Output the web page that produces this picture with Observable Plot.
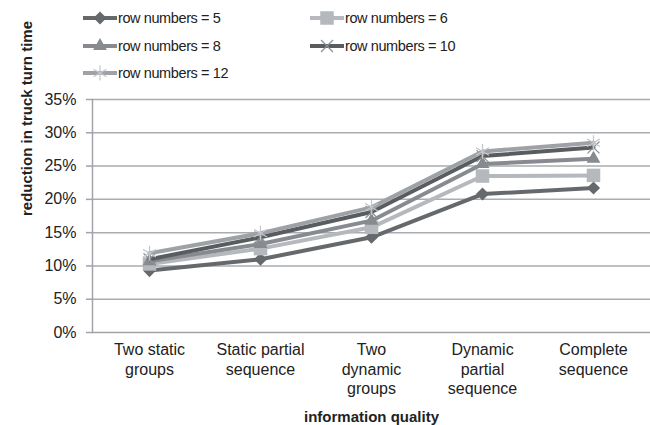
<!DOCTYPE html>
<html>
<head>
<meta charset="utf-8">
<script src="https://cdn.jsdelivr.net/npm/d3@7"></script>
<script src="https://cdn.jsdelivr.net/npm/@observablehq/plot@0.6"></script>
<style>
  html, body { margin: 0; padding: 0; background: #fff; }
  #wrap { position: relative; width: 650px; height: 425px; font-family: "Liberation Sans", Arial, sans-serif; }
  #legend { position: absolute; left: 0; top: 0; width: 650px; height: 90px; }
  .item { position: absolute; height: 20px; display: flex; align-items: center; font-size: 14.5px; letter-spacing: -0.4px; color: #222; }
  .item svg { display: block; margin-right: 1px; }
</style>
</head>
<body>
<div id="wrap"><div id="legend"></div></div>
<script>
const categories = ["Two static groups", "Static partial sequence", "Two dynamic groups", "Dynamic partial sequence", "Complete sequence"];
const tickLabels = ["Two static\ngroups", "Static partial\nsequence", "Two\ndynamic\ngroups", "Dynamic\npartial\nsequence", "Complete\nsequence"];
const seriesNames = ["row numbers = 5", "row numbers = 6", "row numbers = 8", "row numbers = 10", "row numbers = 12"];
const row5  = [0.093, 0.110, 0.143, 0.208, 0.217];
const row6  = [0.103, 0.126, 0.158, 0.235, 0.236];
const row8  = [0.107, 0.133, 0.168, 0.253, 0.261];
const row10 = [0.110, 0.143, 0.181, 0.265, 0.278];
const row12 = [0.119, 0.149, 0.188, 0.272, 0.285];
const yTicks = [0, 0.05, 0.10, 0.15, 0.20, 0.25, 0.30, 0.35];
const yTitle = "reduction in truck turn time";
const xTitle = "information quality";

const seriesValues = [row5, row6, row8, row10, row12];
const colors = ["#66696b", "#b5b9bd", "#878b8f", "#5a5d5f", "#9ea2a6"];
const symbols = ["diamond2", "square2", "triangle2", "times", "asterisk"];
const d3symbols = [d3.symbolDiamond2, d3.symbolSquare2, d3.symbolTriangle2, d3.symbolTimes, d3.symbolAsterisk];
const radii = [5.9, 8.6, 6.6, 5.5, 7.1];
const filled = [true, true, true, false, false];

const data = seriesNames.flatMap((s, si) => categories.map((c, ci) => ({series: s, cat: c, value: seriesValues[si][ci]})));
const labelMap = new Map(categories.map((c, i) => [c, tickLabels[i]]));

const marks = [
  Plot.gridY(yTicks.filter(d => d > 0), {stroke: "#a9adb1", strokeOpacity: 1, strokeWidth: 1.5}),
  Plot.ruleY([0], {stroke: "#a0a4a8", strokeWidth: 1.5}),
  Plot.frame({anchor: "left", stroke: "#a0a4a8", strokeWidth: 1.5}),
  Plot.axisY({ticks: yTicks, tickFormat: d => Math.round(d * 100) + "%", tickSize: 6, tickPadding: 10, fontSize: 16, stroke: "#a0a4a8", strokeWidth: 1.5, color: "#222", label: null}),
  Plot.axisX({tickSize: 0, tickPadding: 9, fontSize: 16, lineHeight: 1.22, tickFormat: d => labelMap.get(d), color: "#222", label: null}),
  Plot.text([yTitle], {frameAnchor: "left", dx: -65, rotate: -90, fontSize: 15, fontWeight: "bold", fill: "#222"}),
  Plot.text([xTitle], {frameAnchor: "bottom", dy: 89, fontSize: 15, fontWeight: "bold", fill: "#222"})
];
seriesNames.forEach((s, si) => {
  const sub = data.filter(d => d.series === s);
  marks.push(Plot.line(sub, {x: "cat", y: "value", stroke: colors[si], strokeWidth: 4, strokeLinejoin: "round"}));
  marks.push(Plot.dot(sub, filled[si]
    ? {x: "cat", y: "value", symbol: () => symbols[si], r: radii[si], fill: colors[si], stroke: "none"}
    : {x: "cat", y: "value", symbol: () => symbols[si], r: radii[si], fill: "none", stroke: si === 3 ? "#8c9094" : "#c2c5c9", strokeWidth: 1.2}));
});

const chart = Plot.plot({
  width: 650, height: 425,
  marginTop: 99, marginBottom: 93, marginLeft: 92, marginRight: 0,
  style: {fontFamily: "'Liberation Sans', Arial, sans-serif", background: "white"},
  x: {type: "point", domain: categories, padding: 0.5},
  y: {domain: [0, 0.35]},
  symbol: {type: "identity"},
  marks
});
document.getElementById("wrap").appendChild(chart);

// legend
const pos = [[83, 18], [310, 18], [83, 46], [310, 46], [83, 73]];
const legend = d3.select("#legend");
seriesNames.forEach((s, si) => {
  const item = legend.append("div").attr("class", "item")
    .style("left", pos[si][0] + "px").style("top", (pos[si][1] - 10) + "px");
  const svg = item.append("svg").attr("width", 34).attr("height", 20);
  svg.append("line").attr("x1", 0).attr("x2", 34).attr("y1", 10).attr("y2", 10)
    .attr("stroke", colors[si]).attr("stroke-width", 4).attr("stroke-linecap", "round");
  const p = svg.append("path").attr("transform", "translate(17,10)")
    .attr("d", d3.symbol(d3symbols[si], Math.PI * radii[si] * radii[si])());
  if (filled[si]) p.attr("fill", colors[si]);
  else p.attr("fill", "none").attr("stroke", si === 3 ? "#8c9094" : "#c2c5c9").attr("stroke-width", 1.2);
  item.append("span").text(s);
});
</script>
</body>
</html>
